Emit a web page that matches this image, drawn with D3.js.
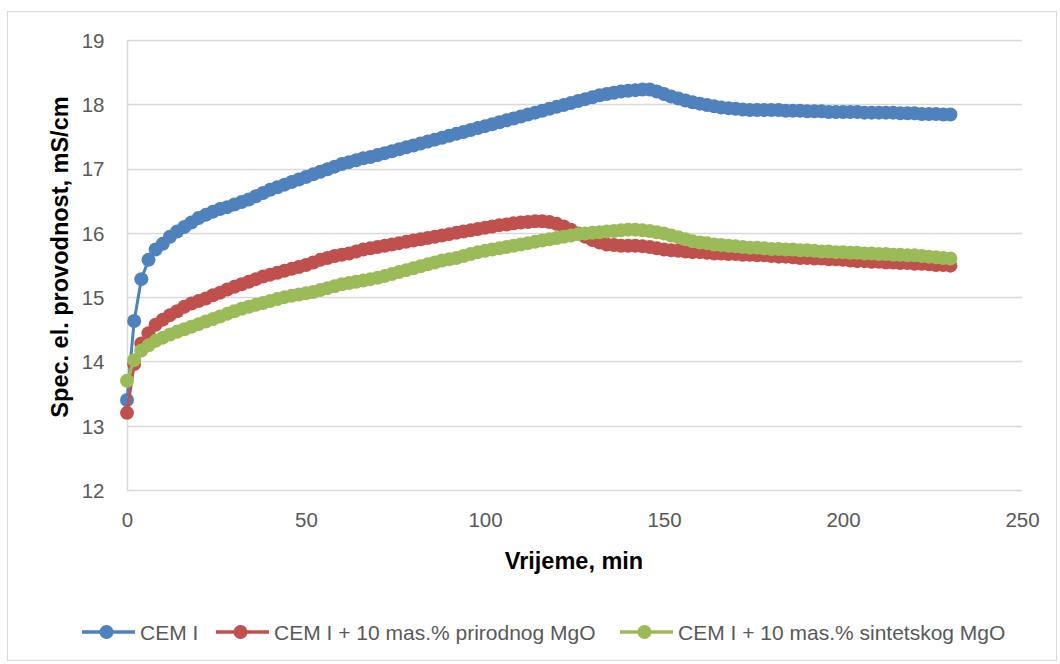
<!DOCTYPE html>
<html>
<head>
<meta charset="utf-8">
<script src="https://cdn.jsdelivr.net/npm/d3@7"></script>
<style>
html,body{margin:0;padding:0;background:#fff;}
svg{display:block;font-family:"Liberation Sans","DejaVu Sans",sans-serif;}
</style>
</head>
<body>
<svg id="chart" width="1060" height="664"></svg>
<script>
const minutes = [0,2,4,6,8,10,12,14,16,18,20,22,24,26,28,30,32,34,36,38,40,42,44,46,48,50,52,54,56,58,60,62,64,66,68,70,72,74,76,78,80,82,84,86,88,90,92,94,96,98,100,102,104,106,108,110,112,114,116,118,120,122,124,126,128,130,132,134,136,138,140,142,144,146,148,150,152,154,156,158,160,162,164,166,168,170,172,174,176,178,180,182,184,186,188,190,192,194,196,198,200,202,204,206,208,210,212,214,216,218,220,222,224,226,228,230];

const cemI = [13.40,14.63,15.28,15.58,15.74,15.83,15.94,16.02,16.09,16.16,16.23,16.28,16.33,16.37,16.40,16.44,16.48,16.52,16.57,16.62,16.67,16.71,16.75,16.79,16.83,16.87,16.91,16.95,16.99,17.03,17.07,17.10,17.13,17.16,17.18,17.21,17.24,17.27,17.30,17.33,17.36,17.39,17.42,17.45,17.48,17.51,17.54,17.57,17.60,17.63,17.66,17.69,17.72,17.75,17.78,17.81,17.84,17.87,17.90,17.93,17.96,17.99,18.02,18.05,18.08,18.11,18.14,18.16,18.18,18.20,18.21,18.22,18.23,18.23,18.20,18.16,18.12,18.09,18.06,18.03,18.01,17.99,17.97,17.95,17.94,17.93,17.92,17.91,17.91,17.91,17.91,17.91,17.90,17.90,17.90,17.89,17.89,17.89,17.88,17.88,17.88,17.88,17.88,17.87,17.87,17.87,17.87,17.87,17.86,17.86,17.86,17.85,17.85,17.85,17.84,17.84];

const prirodni = [13.20,13.96,14.28,14.44,14.57,14.65,14.72,14.78,14.85,14.90,14.94,14.98,15.03,15.07,15.12,15.16,15.20,15.24,15.28,15.32,15.35,15.38,15.41,15.44,15.47,15.50,15.54,15.58,15.61,15.64,15.66,15.68,15.71,15.74,15.76,15.78,15.80,15.82,15.84,15.86,15.88,15.90,15.92,15.94,15.96,15.98,16.00,16.02,16.04,16.06,16.08,16.10,16.12,16.13,16.15,16.16,16.17,16.18,16.18,16.17,16.14,16.10,16.05,15.99,15.94,15.89,15.85,15.82,15.81,15.80,15.80,15.80,15.79,15.78,15.76,15.74,15.73,15.72,15.71,15.70,15.70,15.69,15.68,15.68,15.67,15.67,15.66,15.66,15.65,15.65,15.64,15.63,15.63,15.62,15.61,15.61,15.60,15.60,15.59,15.59,15.58,15.57,15.56,15.56,15.55,15.55,15.54,15.54,15.53,15.53,15.52,15.52,15.51,15.50,15.50,15.49];

const sintetski = [13.70,14.02,14.17,14.25,14.32,14.37,14.42,14.46,14.50,14.54,14.58,14.62,14.66,14.70,14.74,14.78,14.82,14.85,14.88,14.91,14.94,14.97,15.00,15.02,15.04,15.06,15.08,15.11,15.14,15.17,15.20,15.22,15.24,15.26,15.28,15.30,15.33,15.36,15.39,15.42,15.45,15.48,15.51,15.54,15.57,15.59,15.61,15.64,15.67,15.70,15.72,15.74,15.76,15.78,15.80,15.82,15.84,15.86,15.88,15.90,15.92,15.94,15.96,15.98,15.99,16.00,16.01,16.02,16.03,16.04,16.05,16.05,16.04,16.03,16.01,15.99,15.96,15.93,15.90,15.87,15.85,15.84,15.82,15.81,15.80,15.79,15.78,15.77,15.77,15.76,15.75,15.75,15.74,15.74,15.73,15.73,15.72,15.71,15.71,15.70,15.70,15.69,15.69,15.68,15.68,15.67,15.67,15.66,15.66,15.65,15.65,15.64,15.63,15.62,15.61,15.60];

const seriesNames = ["CEM I", "CEM I + 10 mas.% prirodnog MgO", "CEM I + 10 mas.% sintetskog MgO"];
const seriesColors = ["#4f81bd", "#c0504d", "#9bbb59"];
const xTicks = [0, 50, 100, 150, 200, 250];
const yTicks = [12, 13, 14, 15, 16, 17, 18, 19];
const xTitle = "Vrijeme, min";
const yTitle = "Spec. el. provodnost, mS/cm";

const allSeries = [cemI, prirodni, sintetski].map((vals, i) => ({
  name: seriesNames[i], color: seriesColors[i],
  points: vals.map((v, j) => ({x: minutes[j], y: v}))
}));

const svg = d3.select("#chart");
svg.append("rect").attr("x", 7.5).attr("y", 11.5).attr("width", 1049).attr("height", 649)
  .attr("fill", "#fff").attr("stroke", "#d9d9d9").attr("stroke-width", 1);

const m = {left: 127, right: 1022, top: 40, bottom: 490};
const x = d3.scaleLinear().domain([0, 250]).range([m.left, m.right]);
const y = d3.scaleLinear().domain([12, 19]).range([m.bottom, m.top]);

// gridlines
svg.append("g").selectAll("line").data(yTicks).join("line")
  .attr("x1", m.left).attr("x2", m.right)
  .attr("y1", d => Math.round(y(d)) + 0.5).attr("y2", d => Math.round(y(d)) + 0.5)
  .attr("stroke", "#d9d9d9").attr("stroke-width", 1.5);

// y axis line
svg.append("line").attr("x1", m.left + 0.5).attr("x2", m.left + 0.5)
  .attr("y1", m.top).attr("y2", m.bottom)
  .attr("stroke", "#d9d9d9").attr("stroke-width", 1.5);

// y tick labels
const yAxis = svg.append("g").attr("transform", `translate(${m.left},0)`)
  .call(d3.axisLeft(y).tickValues(yTicks).tickFormat(d3.format("d")).tickSize(0).tickPadding(22.5));
yAxis.select(".domain").remove();
yAxis.selectAll("text").attr("font-size", 20.5).attr("fill", "#595959")
  .attr("font-family", "Liberation Sans, sans-serif").attr("dy", "0.36em");

// x tick labels
const xAxis = svg.append("g").attr("transform", `translate(0,${m.bottom})`)
  .call(d3.axisBottom(x).tickValues(xTicks).tickFormat(d3.format("d")).tickSize(0).tickPadding(0));
xAxis.select(".domain").remove();
xAxis.selectAll("text").attr("font-size", 20.5).attr("fill", "#595959")
  .attr("font-family", "Liberation Sans, sans-serif").attr("y", 37).attr("dy", null);

// titles
svg.append("text").attr("x", 574).attr("y", 569)
  .attr("text-anchor", "middle").attr("font-weight", "bold").attr("font-size", 23.5)
  .attr("fill", "#000").text(xTitle);
svg.append("text").attr("transform", `translate(68,257) rotate(-90)`)
  .attr("text-anchor", "middle").attr("font-weight", "bold").attr("font-size", 23.5)
  .attr("fill", "#000").text(yTitle);

// series
const line = d3.line().x(d => x(d.x)).y(d => y(d.y));
const gS = svg.append("g");
allSeries.forEach(s => {
  const g = gS.append("g");
  g.append("path").datum(s.points).attr("d", line)
    .attr("fill", "none").attr("stroke", s.color).attr("stroke-width", 3);
  g.selectAll("circle").data(s.points).join("circle")
    .attr("cx", d => x(d.x)).attr("cy", d => y(d.y)).attr("r", 7)
    .attr("fill", s.color);
});

// legend
const legendX = [82, 216, 620];
const lg = svg.append("g");
allSeries.forEach((s, i) => {
  const g = lg.append("g").attr("transform", `translate(${legendX[i]},632)`);
  g.append("line").attr("x1", 0).attr("x2", 53).attr("y1", 0).attr("y2", 0)
    .attr("stroke", s.color).attr("stroke-width", 3.5);
  g.append("circle").attr("cx", 24.5).attr("cy", 0).attr("r", 7).attr("fill", s.color);
  g.append("text").attr("x", 58).attr("y", 7.5).attr("font-size", 21)
    .attr("fill", "#595959").text(s.name);
});
</script>
</body>
</html>
